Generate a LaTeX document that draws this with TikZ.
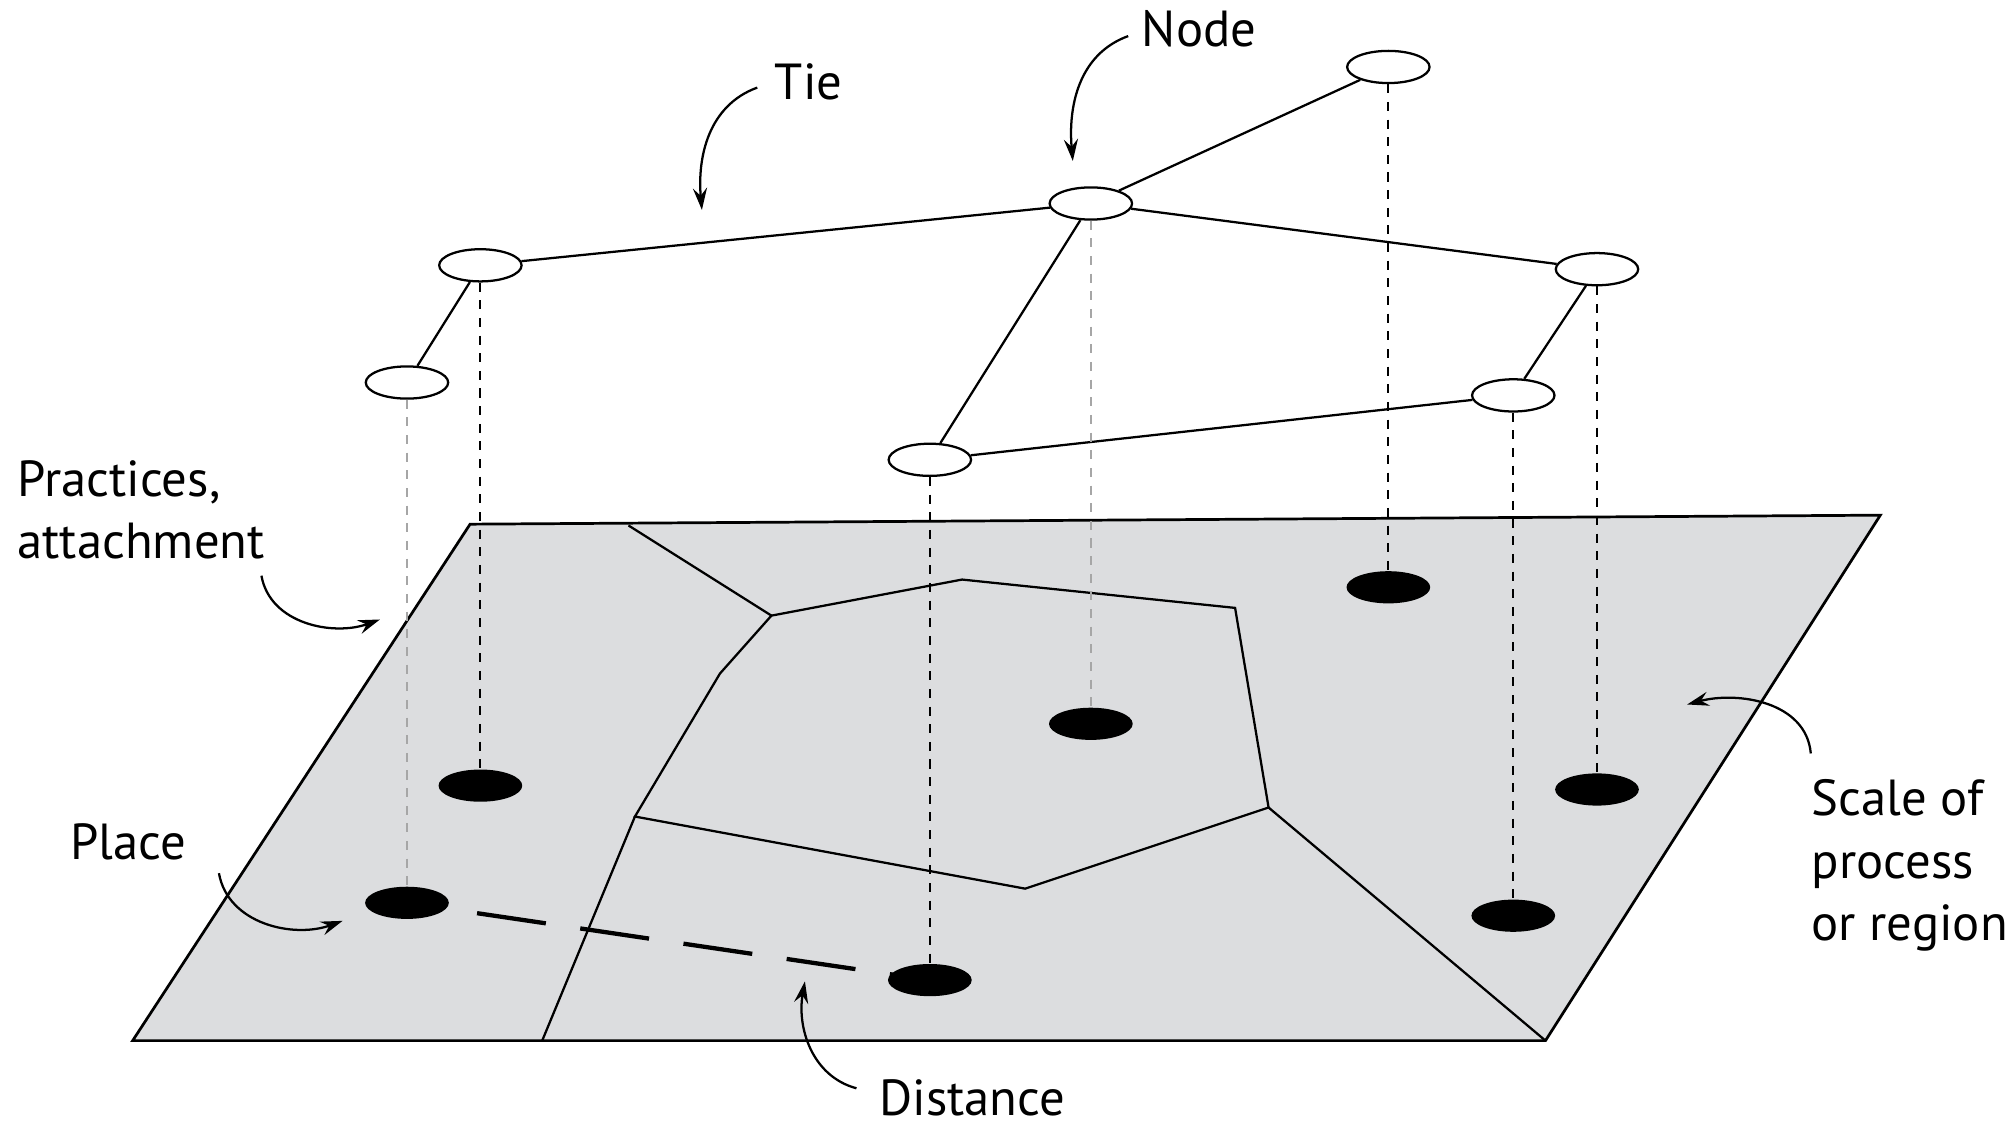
\documentclass[tikz,border=0pt]{standalone}
\usepackage{fontspec}
\setmainfont{PT Sans}
\usetikzlibrary{shapes.geometric,arrows.meta}
\definecolor{planegray}{RGB}{220,221,223}
\begin{document}
\begin{tikzpicture}
\tikzset{actor/.style = {shape=ellipse,draw,fill=white,line width=0.5pt,minimum width=0.64cm,minimum height=0.25cm,inner sep=0pt}}
\tikzset{place/.style = {shape=ellipse,fill=black,minimum width=0.65cm,minimum height=0.25cm,inner sep=0pt}}
\tikzset{tie/.style = {line width=0.5pt}}
\tikzset{drop/.style = {line width=0.4pt,dash pattern=on 2pt off 1.9pt}}
\tikzset{faint/.style = {drop,draw=black!35}}
\tikzset{pointer/.style = {-{Stealth[length=1.7mm,width=1.1mm,inset=0.6mm]},line width=0.5pt}}
\tikzset{note/.style = {font=\fontsize{11.2}{13.8}\selectfont,inner sep=0pt,align=left}}
\useasboundingbox (0,0) rectangle (15.63,8.735);
% ground plane and its regions
\draw[fill=planegray,line width=0.6pt] (1.03,0.655) -- (3.65,4.665) -- (14.60,4.735) -- (12.00,0.655) -- cycle;
\draw[tie] (5.99,3.955) -- (7.47,4.235) -- (9.59,4.015) -- (9.85,2.465) -- (7.96,1.835) -- (4.93,2.395) -- (5.59,3.505) -- cycle;
\draw[tie] (4.88,4.655) -- (5.99,3.955);
\draw[tie] (4.93,2.395) -- (4.21,0.655);
\draw[tie] (9.85,2.465) -- (12.00,0.655);
% network
\node[actor] (n1) at (10.78,8.215) {};
\node[actor] (n2) at (8.47,7.155) {};
\node[actor] (n3) at (3.73,6.675) {};
\node[actor] (n4) at (12.40,6.645) {};
\node[actor] (n5) at (3.16,5.765) {};
\node[actor] (n6) at (11.75,5.665) {};
\node[actor] (n7) at (7.22,5.165) {};
% places
\node[place] (p1) at (10.78,4.175) {};
\node[place] (p2) at (8.47,3.115) {};
\node[place] (p3) at (3.73,2.635) {};
\node[place] (p4) at (12.40,2.605) {};
\node[place] (p5) at (3.16,1.725) {};
\node[place] (p6) at (11.75,1.625) {};
\node[place] (p7) at (7.22,1.125) {};
\path[tie]
(n1) edge (n2)
(n2) edge (n3)
(n2) edge (n4)
(n2) edge (n7)
(n3) edge (n5)
(n4) edge (n6)
(n6) edge (n7);
\draw[drop] (n1.south) -- (p1.north);
\draw[faint] (n2.south) -- (p2.north);
\draw[drop] (n3.south) -- (p3.north);
\draw[drop] (n4.south) -- (p4.north);
\draw[faint] (n5.south) -- (p5.north);
\draw[drop] (n6.south) -- (p6.north);
\draw[drop] (n7.south) -- (p7.north);
\draw[line width=0.95pt,dash pattern=on 0.54cm off 0.27cm,shorten <=0.55cm,shorten >=0.22cm] (p5.center) -- (p7.center);
% labels
\node[note,anchor=base west] (lblnode) at (8.86,8.375) {Node};
\node[note,anchor=base west] (lbltie) at (6.01,7.965) {Tie};
\node[note,anchor=west] (lblprac) at (0.13,4.775) {Practices,\\attachment};
\node[note,anchor=base west] (lblplace) at (0.54,2.065) {Place};
\node[note,anchor=west] (lblscale) at (14.06,2.015) {Scale of\\process\\or region};
\node[note,anchor=base west] (lbldist) at (6.82,0.07) {Distance};
\coordinate (nodetail) at (8.76,8.455);
\coordinate (nodetip) at (8.33,7.485);
\coordinate (tietail) at (5.88,8.055);
\coordinate (tietip) at (5.45,7.105);
\coordinate (practail) at (2.03,4.265);
\coordinate (practip) at (2.95,3.925);
\coordinate (placetail) at (1.70,1.955);
\coordinate (placetip) at (2.66,1.585);
\coordinate (scaletail) at (14.06,2.885);
\coordinate (scaletip) at (13.10,3.265);
\coordinate (disttail) at (6.65,0.285);
\coordinate (disttip) at (6.25,1.115);
\draw[pointer] (nodetail) to[out=200,in=95] (nodetip);
\draw[pointer] (tietail) to[out=200,in=95] (tietip);
\draw[pointer] (practail) to[out=-80,in=200] (practip);
\draw[pointer] (placetail) to[out=-80,in=200] (placetip);
\draw[pointer] (scaletail) to[out=95,in=15] (scaletip);
\draw[pointer] (disttail) to[out=165,in=-100] (disttip);
\end{tikzpicture}
\end{document}
